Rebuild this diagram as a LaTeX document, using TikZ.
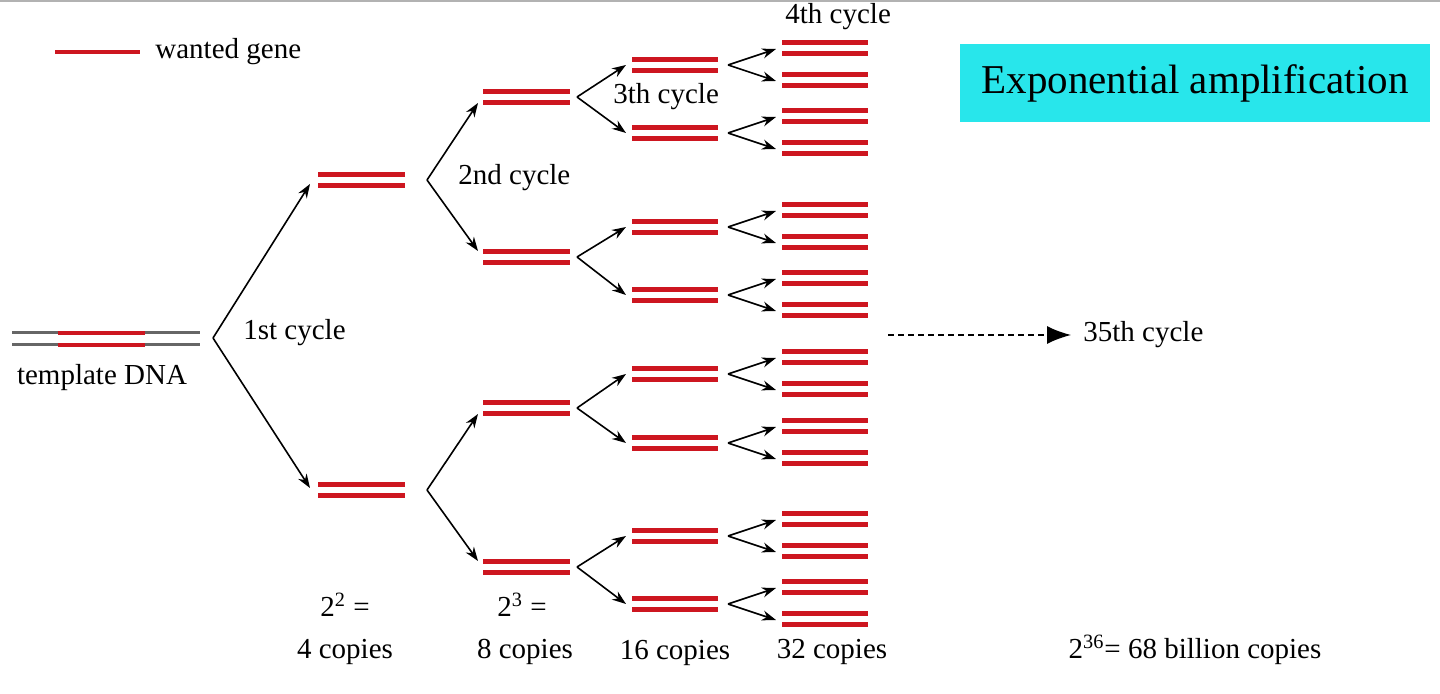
\documentclass[tikz,border=0pt]{standalone}
\usepackage{fontspec}
\setmainfont{Liberation Serif}
\usetikzlibrary{arrows.meta}
\definecolor{gred}{RGB}{205,22,32}
\definecolor{cy}{RGB}{40,230,235}
\begin{document}
\begin{tikzpicture}[x=0.5pt,y=-0.5pt,
  strand/.style={gred,line width=2.4pt},
  arr/.style={-{Stealth[length=7pt,width=5pt]},line width=0.8pt},
  lbl/.style={font=\fontsize{14.5}{17}\selectfont,inner sep=0pt}]
\useasboundingbox (0,0) rectangle (1440,694);
\draw[gray!60,line width=1pt] (0,1) -- (1440,1);
% legend
\draw[strand] (55,52) -- (140,52);
\node[lbl,anchor=west] (leg) at (155,52) {wanted gene};
% template
\draw[gray!80!black,line width=1.5pt] (12,333) -- (200,333) (12,345) -- (200,345);
\draw[strand] (58,333) -- (145,333) (58,345) -- (145,345);
\node[lbl] (tpl) at (102,378) {template DNA};
\newcommand\pairdna[4]{\draw[strand] (#1,#3-5.5) -- (#2,#3-5.5) (#1,#3+5.5) -- (#2,#3+5.5);\coordinate (#4) at (#1,#3);}
% level1
\pairdna{318}{405}{180}{a1}\pairdna{318}{405}{490}{a2}
\coordinate (v0) at (213,338);
\draw[arr] (v0) -- (310,184); \draw[arr] (v0) -- (310,488);
\node[lbl,anchor=west] at (243,333) {1st cycle};
% level2
\foreach \c/\p in {97/180,257/180,408/490,567/490}{\pairdna{483}{570}{\c}{b}}
\foreach \p/\u/\d in {180/97/257,490/408/567}{
  \draw[arr] (427,\p) -- (478,\u+6); \draw[arr] (427,\p) -- (478,\d-6);}
\node[lbl,anchor=west] at (458,178) {2nd cycle};
% level3
\foreach \c in {65,133,227,295,374,443,536,604}{\pairdna{632}{718}{\c}{c}}
\foreach \p/\u/\d in {97/65/133,257/227/295,408/374/443,567/536/604}{
  \draw[arr] (577,\p) -- (626,\u); \draw[arr] (577,\p) -- (626,\d);}
\node[lbl,anchor=west] at (613,97) {3th cycle};
% level4
\foreach \c in {65,133,227,295,374,443,536,604}{
  \pairdna{782}{868}{\c-17}{d}\pairdna{782}{868}{\c+15}{e}
  \draw[arr] (728,\c) -- (776,\c-16); \draw[arr] (728,\c) -- (776,\c+16);}
\node[lbl,anchor=west] at (785,17) {4th cycle};
% 35th
\coordinate (s) at (888,335);
\node[lbl,anchor=west] (c35) at (1083,335) {35th cycle};
\draw[dashed,dash pattern=on 3pt off 2pt,line width=0.8pt,-{Latex[length=12pt,width=9pt]}] (s) -- ([xshift=-6pt]c35.west);
% box
\node[fill=cy,minimum width=235pt,minimum height=39pt,font=\fontsize{20.5}{22}\selectfont] (box) at (1195,83) {Exponential amplification};
% bottom labels
\node[lbl] at (345,605) {2$^{\mathrm{2}}$ =};
\node[lbl] at (345,652) {4 copies};
\node[lbl] at (522,605) {2$^{\mathrm{3}}$ =};
\node[lbl] at (525,652) {8 copies};
\node[lbl] at (675,653) {16 copies};
\node[lbl] at (832,652) {32 copies};
\node[lbl] at (1195,650) {2$^{\mathrm{36}}$= 68 billion copies};
\end{tikzpicture}
\end{document}
